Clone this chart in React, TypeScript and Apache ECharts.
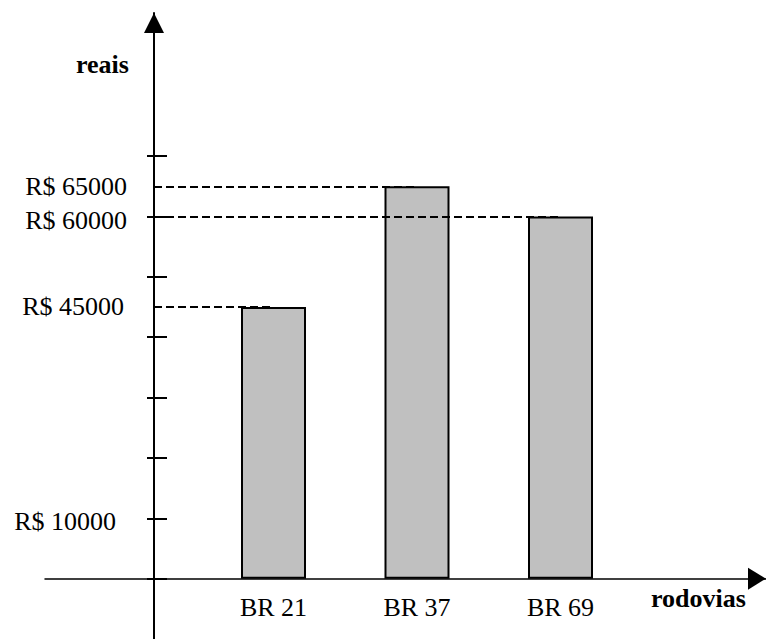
import { useEffect, useRef } from 'react';
import * as echarts from 'echarts';

// ---- data ----
const categories = ['BR 21', 'BR 37', 'BR 69'];
const values = [45000, 65000, 60000];
const tickValues = [0, 10000, 20000, 30000, 40000, 50000, 60000, 70000];
const labelValues = [10000, 45000, 60000, 65000];
const yLabelPrefix = 'R$ ';
const yAxisTitle = 'reais';
const xAxisTitle = 'rodovias';

// ---- layout ----
const W = 766;
const H = 639;
const Y_MIN = -10000;
const Y_MAX = 93700;
const GRID_TOP = 13;
const AXIS_LEFT = 45;
const AXIS_X = 154;
const BAND = 143.5;
const FIRST_CENTER = 273.5;
const FONT = "'Liberation Serif', 'Times New Roman', Times, serif";

// small per-label nudges of the value labels (padding: top, right, bottom, left)
const LABEL_NUDGE: Record<string, number[]> = {
  '10000': [6, 11, 0, 0],
  '45000': [0, 3, 0, 0],
  '60000': [8, 0, 0, 0],
  '65000': [0, 0, 0, 0],
};

export default function App() {
  const ref = useRef<HTMLDivElement>(null);

  useEffect(() => {
    const chart = echarts.init(ref.current!, null, { renderer: 'svg' });
    const barsLeft = FIRST_CENTER - BAND / 2;
    const axisOffset = -(AXIS_X - AXIS_LEFT);
    const gridHeight = H - GRID_TOP;
    const zeroAboveBottom = ((0 - Y_MIN) / (Y_MAX - Y_MIN)) * gridHeight;
    const tickStyle = { color: '#000', width: 2 };

    const rich: Record<string, any> = {};
    Object.keys(LABEL_NUDGE).forEach((k) => {
      rich['l' + k] = { padding: LABEL_NUDGE[k], fontSize: 26, fontFamily: FONT, color: '#000' };
    });

    chart.setOption({
      animation: false,
      backgroundColor: '#ffffff',
      textStyle: { fontFamily: FONT },
      grid: [
        { left: AXIS_LEFT, right: 0, top: GRID_TOP, bottom: 0, containLabel: false, outerBoundsMode: 'none' },
        { left: barsLeft, width: BAND * categories.length, top: GRID_TOP, bottom: 0, containLabel: false, outerBoundsMode: 'none' },
      ],
      xAxis: [
        {
          gridIndex: 0,
          type: 'value',
          min: 0,
          max: 1,
          axisLine: {
            show: true,
            onZero: true,
            lineStyle: { color: '#000', width: 1.5 },
            symbol: ['none', 'triangle'],
            symbolSize: [22, 18],
            symbolOffset: [0, -9],
          },
          axisTick: { show: false },
          axisLabel: { show: false },
          splitLine: { show: false },
        },
        {
          gridIndex: 1,
          type: 'category',
          data: categories,
          position: 'bottom',
          offset: -zeroAboveBottom,
          axisLine: { show: false, onZero: false },
          axisTick: { show: false },
          axisLabel: { margin: 16, color: '#000', fontSize: 26, fontFamily: FONT },
          splitLine: { show: false },
        },
      ],
      yAxis: [
        {
          gridIndex: 0,
          type: 'value',
          min: Y_MIN,
          max: Y_MAX,
          position: 'left',
          offset: axisOffset,
          axisLine: {
            show: true,
            onZero: false,
            lineStyle: { color: '#000', width: 2 },
            symbol: ['none', 'triangle'],
            symbolSize: [20, 20],
            symbolOffset: [0, -10],
          },
          axisTick: { show: true, customValues: tickValues, length: 7, lineStyle: tickStyle },
          axisLabel: {
            show: true,
            customValues: labelValues,
            formatter: (v: number) => {
              const key = String(v);
              return rich['l' + key] ? `{l${key}|${yLabelPrefix}${v}}` : yLabelPrefix + v;
            },
            rich,
            margin: 27,
            color: '#000',
            fontSize: 26,
            fontFamily: FONT,
          },
          splitLine: { show: false },
        },
        {
          gridIndex: 0,
          type: 'value',
          min: Y_MIN,
          max: Y_MAX,
          position: 'left',
          offset: axisOffset,
          axisLine: { show: false, onZero: false },
          axisTick: { show: true, inside: true, customValues: tickValues, length: 13, lineStyle: tickStyle },
          axisLabel: { show: false },
          splitLine: { show: false },
        },
        {
          gridIndex: 1,
          type: 'value',
          min: Y_MIN,
          max: Y_MAX,
          show: false,
          splitLine: { show: false },
        },
      ],
      series: [
        {
          type: 'bar',
          xAxisIndex: 1,
          yAxisIndex: 2,
          data: values,
          barWidth: 65,
          itemStyle: { color: '#c0c0c0', borderColor: '#000', borderWidth: 2 },
          emphasis: { disabled: true },
          markLine: {
            silent: true,
            symbol: ['none', 'none'],
            label: { show: false },
            emphasis: { disabled: true },
            lineStyle: { color: '#000', width: 1.8, type: [8, 4] },
            data: categories.map((c, i) => [
              { x: AXIS_X, coord: [c, values[i]] },
              { coord: [c, values[i]] },
            ]),
          },
        },
      ],
      graphic: [
        {
          type: 'text',
          x: 76,
          y: 64,
          style: {
            text: yAxisTitle,
            fontSize: 26,
            fontWeight: 'bold',
            fontFamily: FONT,
            fill: '#000',
            align: 'left',
            verticalAlign: 'middle',
          },
        },
        {
          type: 'text',
          x: 651,
          y: 598,
          style: {
            text: xAxisTitle,
            fontSize: 26,
            fontWeight: 'bold',
            fontFamily: FONT,
            fill: '#000',
            align: 'left',
            verticalAlign: 'middle',
          },
        },
      ],
    });

    return () => chart.dispose();
  }, []);

  return (
    <div
      ref={ref}
      style={{ position: 'fixed', left: 0, top: 0, width: W, height: H, background: '#fff' }}
    />
  );
}
